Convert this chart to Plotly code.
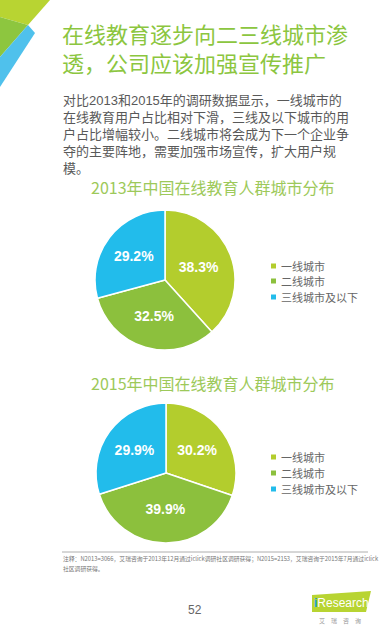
import plotly.graph_objects as go

W, H = 390, 638

categories = ["一线城市", "二线城市", "三线城市及以下"]
values_2013 = [38.3, 32.5, 29.2]
values_2015 = [30.2, 39.9, 29.9]
colors = ["#b3cd2d", "#8cc03d", "#22bceb"]

title_lines = ["在线教育逐步向二三线城市渗", "透，公司应该加强宣传推广"]
para_lines = [
    "对比2013和2015年的调研数据显示，一线城市的",
    "在线教育用户占比相对下滑，三线及以下城市的用",
    "户占比增幅较小。二线城市将会成为下一个企业争",
    "夺的主要阵地，需要加强市场宣传，扩大用户规",
    "模。",
]
chart_title_2013 = "2013年中国在线教育人群城市分布"
chart_title_2015 = "2015年中国在线教育人群城市分布"
note_lines = [
    "注释：N2013=3066，艾瑞咨询于2013年12月通过iclick调研社区调研获得；N2015=2153，艾瑞咨询于2015年7月通过iclick",
    "社区调研获得。",
]
page_number = "52"

CJK = "Noto Sans CJK SC"
MIX = "Liberation Sans, Noto Sans CJK SC"


def px(x):
    return x / W


def py(y):
    return 1 - y / H


fig = go.Figure()


def add_pie(vals, cx, cy, r):
    fig.add_trace(go.Pie(
        labels=categories,
        values=vals,
        sort=False,
        direction="clockwise",
        rotation=0,
        marker=dict(colors=colors, line=dict(color="white", width=1.5)),
        texttemplate="<b>%{value:.1f}%</b>",
        textposition="inside",
        insidetextorientation="horizontal",
        textfont=dict(family="Liberation Sans", size=14, color="white"),
        hoverinfo="label+value",
        domain=dict(x=[px(cx - r), px(cx + r)], y=[py(cy + r), py(cy - r)]),
        showlegend=False,
    ))


add_pie(values_2013, 165, 280, 70)
add_pie(values_2015, 166, 473, 70)

ann = []
shapes = []

# Title
ann.append(dict(text="<br>".join(title_lines), x=px(60), y=py(21), xanchor="left", yanchor="top",
                align="left", showarrow=False, font=dict(family=MIX, size=22, color="#8cc63f")))
# Paragraph
ann.append(dict(text="<br>".join(para_lines), x=px(61), y=py(91), xanchor="left", yanchor="top",
                align="left", showarrow=False, font=dict(family=MIX, size=13, color="#595959")))
# Chart titles
ann.append(dict(text=chart_title_2013, x=px(213), y=py(187), xanchor="center", yanchor="middle",
                showarrow=False, font=dict(family=CJK, size=16, color="#9dc95a")))
ann.append(dict(text=chart_title_2015, x=px(213), y=py(383), xanchor="center", yanchor="middle",
                showarrow=False, font=dict(family=CJK, size=16, color="#9dc95a")))

# Manual legends
for ys in ([266, 281, 297], [457, 473, 489]):
    for cat, col, y in zip(categories, colors, ys):
        shapes.append(dict(type="rect", xref="paper", yref="paper",
                           x0=px(271), x1=px(276), y0=py(y + 2.5), y1=py(y - 2.5),
                           fillcolor=col, line=dict(width=0)))
        ann.append(dict(text=cat, x=px(279), y=py(y), xanchor="left", yanchor="middle",
                        showarrow=False, font=dict(family=CJK, size=11, color="#666666")))

# Notes
for i, t in enumerate(note_lines):
    ann.append(dict(text=t, x=px(61), y=py(558 + 10.5 * i), xanchor="left", yanchor="middle",
                    showarrow=False, font=dict(family=CJK, size=5.8, color="#777777")))
# Page number
ann.append(dict(text=page_number, x=px(195), y=py(610), xanchor="center", yanchor="middle",
                showarrow=False, font=dict(family="Liberation Sans", size=12, color="#666666")))
# Logo texts
ann.append(dict(text="<b><span style='color:#1a9fd9'>i</span></b>Research", x=px(341), y=py(603),
                xanchor="center", yanchor="middle",
                showarrow=False, font=dict(family="Liberation Sans", size=12, color="white")))
ann.append(dict(text="艾　瑞　咨　询", x=px(340), y=py(620), xanchor="center", yanchor="middle",
                showarrow=False, font=dict(family=CJK, size=6, color="#999999")))

shapes += [
    # top-left decoration
    dict(type="path", path=f"M {px(0)} {py(0)} L {px(50)} {py(0)} L {px(28)} {py(25)} L {px(0)} {py(17)} Z",
         xref="paper", yref="paper", fillcolor="#b8d432", line=dict(width=0)),
    dict(type="path", path=f"M {px(0)} {py(17)} L {px(28)} {py(25)} L {px(0)} {py(57)} Z",
         xref="paper", yref="paper", fillcolor="#8dc63f", line=dict(width=0)),
    dict(type="path", path=f"M {px(28)} {py(25)} L {px(35)} {py(33)} L {px(0)} {py(87)} L {px(0)} {py(57)} Z",
         xref="paper", yref="paper", fillcolor="#4fc1ec", line=dict(width=0)),
    # footer rule
    dict(type="line", x0=px(62), x1=px(368), y0=py(552), y1=py(552), xref="paper", yref="paper",
         line=dict(color="#999999", width=0.8)),
    # logo plate
    dict(type="path", path=f"M {px(312)} {py(595)} L {px(371)} {py(591)} L {px(366)} {py(612)} L {px(312)} {py(612)} Z",
         xref="paper", yref="paper", fillcolor="#b8d432", line=dict(width=0), layer="below"),
]

fig.update_layout(
    width=W, height=H,
    margin=dict(l=0, r=0, t=0, b=0),
    paper_bgcolor="white", plot_bgcolor="white",
    showlegend=False,
    annotations=ann,
    shapes=shapes,
)

fig.write_html("out.html", config={"displayModeBar": False},
               post_script="document.body.style.margin='0';")
